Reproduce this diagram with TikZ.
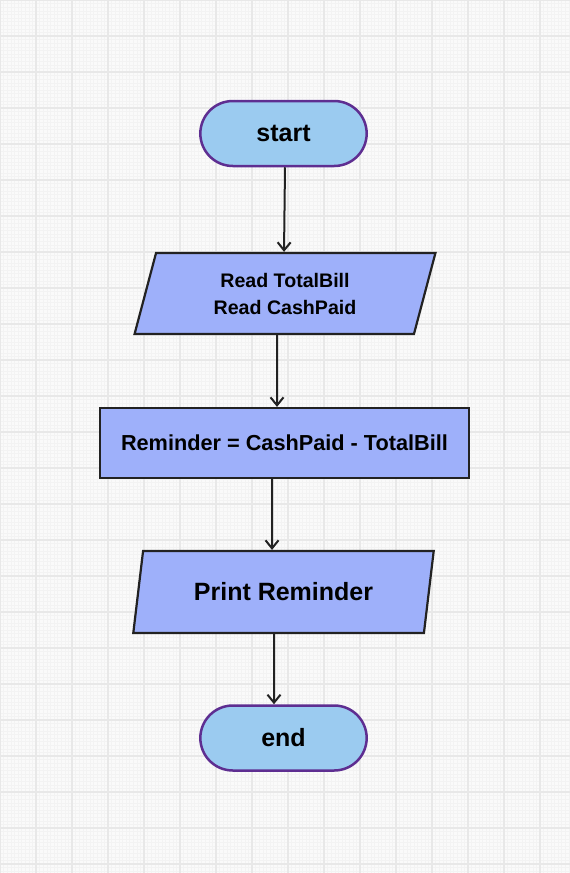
\documentclass[tikz,border=0pt]{standalone}
\usepackage{fontspec}
\setmainfont{Liberation Sans}
\usepackage{xcolor}
\usetikzlibrary{shapes.geometric,shapes.misc,arrows.meta}

\definecolor{paper}{HTML}{FAFAFA}
\definecolor{minorline}{HTML}{F3F3F3}
\definecolor{majorline}{HTML}{E8E8E8}
\definecolor{pillfill}{HTML}{9BCBF0}
\definecolor{pillline}{HTML}{5E2E91}
\definecolor{boxfill}{HTML}{9EB0FA}
\definecolor{ink}{HTML}{222222}

\begin{document}
\begin{tikzpicture}[x=1pt,y=-1pt,
    terminal/.style={rounded rectangle,draw=pillline,fill=pillfill,line width=2.5pt,
        minimum width=173pt,minimum height=65pt,font=\bfseries\fontsize{25}{30}\selectfont},
    inout/.style={trapezium,trapezium left angle=75.5,trapezium right angle=104.5,
        trapezium stretches=true,draw=ink,fill=boxfill,line width=2.2pt,
        minimum width=301pt,minimum height=81pt,align=center},
    process/.style={rectangle,draw=ink,fill=boxfill,line width=2.2pt,
        minimum width=369pt,minimum height=70pt,font=\bfseries\fontsize{21.7}{26}\selectfont},
    flow/.style={draw=ink,line width=2pt,-{Straight Barb[length=8pt,width=13pt,line width=2pt]}}]
    \useasboundingbox (0,0) rectangle (570,873);
    \fill[paper] (0,0) rectangle (570,873);
    \draw[minorline,line width=0.4pt,step=3.6pt] (0pt,-873pt) grid (570pt,0pt);
    \draw[majorline,line width=2pt,step=36pt] (0pt,-873pt) grid (570pt,0pt);
    \node[terminal] (start) at (283.5,133.5) {start};
    \node[inout,font=\bfseries\fontsize{19.6}{27}\selectfont] (read) at (285,293.5) {Read TotalBill\\Read CashPaid};
    \node[process] (calc) at (284.5,443) {Reminder = CashPaid - TotalBill};
    \node[inout,minimum height=82pt,font=\bfseries\fontsize{25}{30}\selectfont] (print) at (283.5,592) {Print Reminder};
    \node[terminal] (end) at (283.5,738) {end};
    \draw[flow] ([xshift=1.5pt]start.south) -- ([xshift=-1pt]read.north);
    \draw[flow] ([xshift=-8pt]read.south) -- ([xshift=-7.5pt]calc.north);
    \draw[flow] ([xshift=-12.5pt]calc.south) -- ([xshift=-11.5pt]print.north);
    \draw[flow] ([xshift=-9.5pt]print.south) -- ([xshift=-9.5pt]end.north);
\end{tikzpicture}
\end{document}
